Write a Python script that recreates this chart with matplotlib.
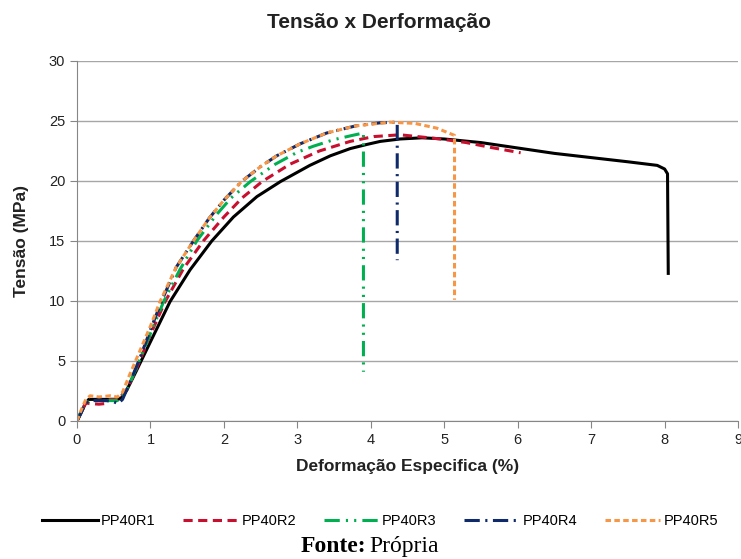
import numpy as np
import matplotlib
matplotlib.use('Agg')
import matplotlib.pyplot as plt

plt.rcParams['font.family'] = ['Liberation Sans', 'DejaVu Sans']

# strain (%) / stress (MPa)
r1_x = [0, 0.05, 0.11, 0.16, 0.35, 0.56, 0.62, 0.68, 0.81, 1.0, 1.267, 1.54, 1.835, 2.13, 2.45, 2.77,
        3.17, 3.45, 3.72, 3.95, 4.13, 4.4, 4.7, 5.0, 5.5, 6.0, 6.5, 7.0, 7.5, 7.9, 8.0, 8.04, 8.05]
r1_y = [0, 0.6, 1.4, 1.8, 1.8, 1.8, 2.0, 2.6, 4.2, 6.6, 9.95, 12.6, 15.0, 17.0, 18.7, 19.95,
        21.3, 22.1, 22.7, 23.05, 23.3, 23.5, 23.6, 23.5, 23.2, 22.75, 22.3, 21.95, 21.6, 21.3, 21.0, 20.6, 12.3]

r2_x = [0, 0.05, 0.12, 0.18, 0.3, 0.38, 0.45, 0.56, 0.68, 0.8, 1.0, 1.2, 1.45, 1.72, 2.0, 2.25, 2.52,
        2.9, 3.3, 3.72, 4.04, 4.4, 4.95, 5.3, 5.63, 6.04]
r2_y = [0, 0.7, 1.5, 1.45, 1.4, 1.45, 1.8, 1.8, 2.6, 4.2, 7.2, 9.95, 12.7, 15.0, 17.0, 18.6, 19.95,
        21.4, 22.5, 23.3, 23.7, 23.85, 23.5, 23.2, 22.8, 22.35]

r3_x = [0, 0.05, 0.12, 0.18, 0.4, 0.55, 0.68, 0.8, 1.0, 1.18, 1.4, 1.63, 1.9, 2.1, 2.36, 2.7, 3.0,
        3.22, 3.5, 3.75, 3.9, 3.9]
r3_y = [0, 0.7, 1.5, 1.7, 1.7, 1.7, 2.6, 4.3, 7.3, 9.95, 12.6, 15.0, 17.2, 18.6, 19.95, 21.4, 22.4,
        22.9, 23.45, 23.8, 24.0, 4.1]

r4_x = [0, 0.05, 0.12, 0.18, 0.4, 0.5, 0.56, 0.62, 0.72, 0.86, 1.0, 1.15, 1.35, 1.585, 1.8, 2.0, 2.24,
        2.5, 2.72, 3.04, 3.4, 3.8, 4.13, 4.36, 4.36]
r4_y = [0, 0.6, 1.5, 1.7, 1.7, 1.6, 1.45, 1.8, 3.2, 5.3, 7.6, 9.95, 12.8, 15.0, 16.9, 18.4, 19.95,
        21.2, 22.1, 23.1, 24.0, 24.6, 24.85, 24.9, 13.4]

r5_x = [0, 0.05, 0.12, 0.18, 0.3, 0.45, 0.55, 0.62, 0.72, 0.86, 1.0, 1.13, 1.35, 1.585, 1.8, 2.0, 2.24,
        2.5, 2.72, 3.04, 3.4, 3.8, 4.26, 4.6, 4.9, 5.14, 5.14]
r5_y = [0, 0.8, 1.8, 2.1, 2.0, 2.1, 2.0, 2.4, 3.9, 5.9, 7.9, 9.95, 12.8, 15.0, 16.9, 18.4, 19.95,
        21.2, 22.1, 23.1, 24.0, 24.6, 24.9, 24.8, 24.4, 23.8, 10.1]

labels = ['PP40R1', 'PP40R2', 'PP40R3', 'PP40R4', 'PP40R5']
colors = ['#000000', '#C8102E', '#00B050', '#0E2A6B', '#F79646']
dashes = [None, (3, 1.8), (5, 2, 0.7, 2, 0.7, 2), (5, 1.8, 0.7, 1.8), (1.8, 1.1)]
xs = [r1_x, r2_x, r3_x, r4_x, r5_x]
ys = [r1_y, r2_y, r3_y, r4_y, r5_y]

fig = plt.figure(figsize=(7.41, 5.59), dpi=100)
ax = fig.add_axes([0.1039, 0.2469, 0.8921, 0.644])

for x, y, lab, c, d in zip(xs, ys, labels, colors, dashes):
    line, = ax.plot(x, y, color=c, lw=2.2, label=lab, solid_joinstyle='round')
    if d is not None:
        line.set_dashes(d)

ax.set_xlim(0, 9)
ax.set_ylim(0, 30)
ax.set_xticks(range(0, 10))
ax.set_yticks(range(0, 31, 5))
ax.yaxis.grid(True, color='#a6a6a6', lw=1)
ax.set_axisbelow(True)
for s in ['top', 'right']:
    ax.spines[s].set_visible(False)
for s in ['left', 'bottom']:
    ax.spines[s].set_color('#868686')
ax.tick_params(colors='#868686', labelcolor='#222222', labelsize=10.5, length=5)

ax.set_xlabel('Deformação Especifica (%)', fontsize=12.5, fontweight='bold', color='#222222', labelpad=9)
ax.set_ylabel('Tensão (MPa)', fontsize=12.5, fontweight='bold', color='#222222', labelpad=14)

fig.text(0.511, 0.96, 'Tensão x Derformação', ha='center', va='center', fontsize=15,
         fontweight='bold', color='#222222')

fig.legend(loc='center', bbox_to_anchor=(0.513, 0.068), ncol=5, frameon=False, fontsize=10.5,
           handlelength=3.8, columnspacing=1.9, handletextpad=0.2)

fig.text(0.494, 0.023, 'Fonte:', ha='right', va='center', fontsize=17, fontweight='bold',
         family='Liberation Serif')
fig.text(0.499, 0.023, 'Própria', ha='left', va='center', fontsize=17, family='Liberation Serif')

fig.savefig('out.png', dpi=100)
